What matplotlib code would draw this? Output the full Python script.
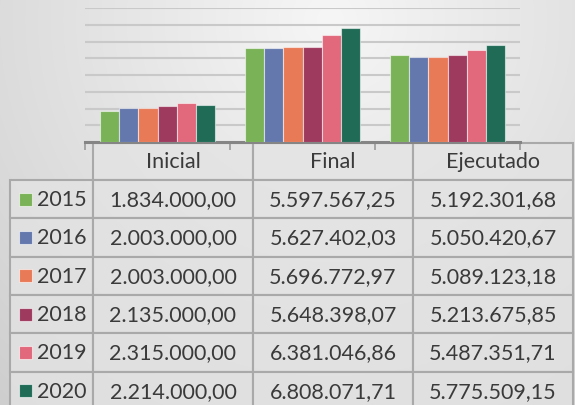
import numpy as np
import matplotlib
matplotlib.use("Agg")
import matplotlib.pyplot as plt
from matplotlib.patches import Rectangle

# datos
categorias = ['Inicial', 'Final', 'Ejecutado']
anios = ['2015', '2016', '2017', '2018', '2019', '2020']
inicial = [1834000.00, 2003000.00, 2003000.00, 2135000.00, 2315000.00, 2214000.00]
final = [5597567.25, 5627402.03, 5696772.97, 5648398.07, 6381046.86, 6808071.71]
ejecutado = [5192301.68, 5050420.67, 5089123.18, 5213675.85, 5487351.71, 5775509.15]
colores = ['#79b257', '#6478ae', '#e97a57', '#9e3a5e', '#e2687b', '#1f6b55']

plt.rcParams['font.family'] = ['Lato', 'DejaVu Sans']

W, H = 575, 405
fig = plt.figure(figsize=(W / 100, H / 100), dpi=100)

# fondo con degradado
bg = fig.add_axes([0, 0, 1, 1])
bg.set_xlim(0, W)
bg.set_ylim(H, 0)
bg.axis('off')
yy, xx = np.mgrid[0:H, 0:W]
d = np.sqrt(((xx - 330) / 420.0) ** 2 + ((yy - 20) / 420.0) ** 2)
gris = np.clip(0.965 - 0.13 * d, 0.80, 1.0)
bg.imshow(np.dstack([gris, gris, gris]), extent=(0, W, H, 0), aspect='auto', zorder=0)


def fmt(v):
    s = f"{v:,.2f}"
    return s.replace(',', 'X').replace('.', ',').replace('X', '.')


# grafico de barras
ax = fig.add_axes([85 / W, 1 - 142 / H, 435 / W, 134 / H])
ax.patch.set_alpha(0)
valores = np.array([inicial, final, ejecutado])  # categoria x anio
x = np.arange(len(categorias))
ancho = 0.1325
for i, anio in enumerate(anios):
    ax.bar(x + (i - 2.5) * ancho, valores[:, i], width=ancho, color=colores[i],
           edgecolor=(1, 1, 1, 0.55), linewidth=0.8, zorder=3)
ax.set_xlim(-0.5, 2.5)
ax.set_ylim(0, 8e6)
ax.set_yticks(np.arange(1e6, 8.01e6, 1e6))
ax.grid(axis='y', color='#c9c9c9', linewidth=1.5, zorder=0)
ax.tick_params(axis='y', length=0, labelleft=False)
ax.set_xticks([-0.5, 0.5, 1.5, 2.5])
ax.tick_params(axis='x', length=6, width=1.2, color='#9a9a9a', labelbottom=False)
for s in ['top', 'right', 'left']:
    ax.spines[s].set_visible(False)
ax.spines['bottom'].set_color('#858585')
ax.spines['bottom'].set_linewidth(2.2)

# tabla de datos
col_x = [10, 93, 253, 413, 573]
fila_y0 = 180
fila_h = 38.3
borde = '#a9a9a9'
texto = '#3a3a3a'
fs = 15.5

for j, cat in enumerate(categorias):
    bg.add_patch(Rectangle((col_x[j + 1], 143), col_x[j + 2] - col_x[j + 1], fila_y0 - 143,
                           facecolor=(0.89, 0.89, 0.89, 0.8), edgecolor=borde, linewidth=1.5, zorder=2))
    bg.text((col_x[j + 1] + col_x[j + 2]) / 2, (143 + fila_y0) / 2 + 1, cat, ha='center', va='center',
            fontsize=fs, color=texto, zorder=3)

for i, anio in enumerate(anios):
    y0 = fila_y0 + i * fila_h
    yc = y0 + fila_h / 2 + 1
    for j in range(4):
        bg.add_patch(Rectangle((col_x[j], y0), col_x[j + 1] - col_x[j], fila_h,
                               facecolor=(0.89, 0.89, 0.89, 0.8), edgecolor=borde, linewidth=1.5, zorder=2))
    bg.add_patch(Rectangle((19, yc - 7.5), 13, 13, facecolor=colores[i],
                           edgecolor=(1, 1, 1, 0.6), linewidth=0.8, zorder=3))
    bg.text(37, yc, anio, ha='left', va='center', fontsize=fs, color=texto, zorder=3)
    for j in range(3):
        bg.text((col_x[j + 1] + col_x[j + 2]) / 2, yc, fmt(valores[j, i]), ha='center', va='center',
                fontsize=fs, color=texto, zorder=3)

fig.savefig('out.png', dpi=100)
